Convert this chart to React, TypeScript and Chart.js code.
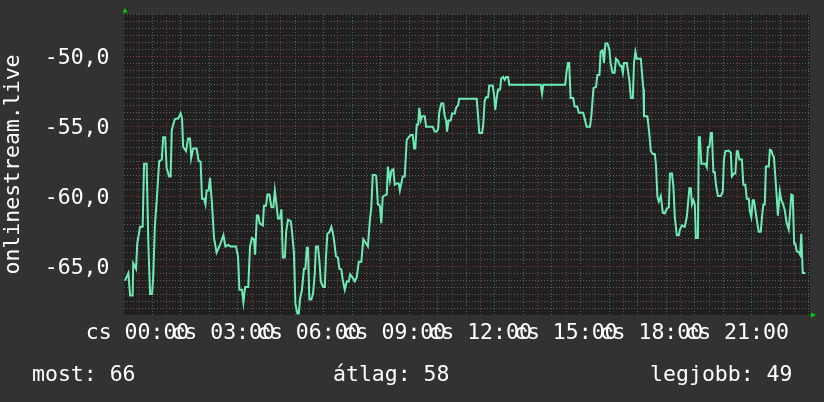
import React, { useEffect, useRef } from 'react';
import { Chart, registerables } from 'chart.js';

Chart.register(...registerables);

// time of each sample, hours after 00:00
const times: number[] = [
  -0.44, -0.32, -0.26, -0.17, -0.15, -0.05, -0.01, 0.09, 0.18, 0.23, 0.32, 0.38, 0.44, 0.51, 0.55, 0.61, 0.67, 0.76, 0.85, 0.9,
  0.97, 1.02, 1.11, 1.16, 1.2, 1.25, 1.31, 1.43, 1.51, 1.56, 1.6, 1.7, 1.77, 1.84, 1.88, 1.95, 2.07, 2.14, 2.21, 2.26,
  2.33, 2.38, 2.42, 2.49, 2.54, 2.6, 2.68, 2.77, 2.89, 3.01, 3.08, 3.18, 3.26, 3.36, 3.45, 3.52, 3.57, 3.66, 3.71, 3.77,
  3.88, 3.94, 4.01, 4.08, 4.12, 4.18, 4.23,
  4.28, 4.39, 4.43, 4.5, 4.55, 4.62, 4.69, 4.76, 4.81, 4.85, 4.92, 4.99, 5.04, 5.09, 5.16, 5.21, 5.27, 5.37, 5.41, 5.48,
  5.53, 5.6, 5.65, 5.69, 5.76, 5.83, 5.88, 5.93, 5.97, 6.02, 6.09, 6.15, 6.21, 6.25, 6.32, 6.37, 6.42, 6.5, 6.56, 6.6,
  6.65, 6.72, 6.79, 6.84, 6.88, 6.95, 7.02, 7.07, 7.14, 7.19, 7.26, 7.33, 7.4, 7.45, 7.54, 7.61, 7.68, 7.75, 7.84, 7.91,
  7.98, 8.07, 8.14, 8.19, 8.24, 8.31, 8.36, 8.42, 8.49, 8.54, 8.59, 8.66, 8.73, 8.77, 8.84, 8.89, 8.96, 9.01, 9.08,
  9.15, 9.19, 9.29, 9.36, 9.43, 9.5, 9.57, 9.64, 9.69, 9.73, 9.78, 9.83, 9.87, 9.92, 9.97, 10.06, 10.11, 10.22, 10.34, 10.41,
  10.48, 10.53, 10.57, 10.64, 10.71, 10.76, 10.81, 10.84, 10.9, 10.97, 11.02, 11.11, 11.16, 11.23, 11.27, 11.88, 11.93, 11.97, 12.07, 12.11,
  12.16, 12.21, 12.28, 12.32, 12.44, 12.49, 12.53, 12.58, 12.63, 12.7, 12.74, 12.81, 12.86, 12.91, 12.98, 13.02, 14.12,
  14.17, 14.21, 14.98, 15.03, 15.08, 15.12, 15.17, 15.26, 15.31, 15.4, 15.46, 15.61, 15.66, 15.73, 15.85, 15.9, 15.97, 16.06, 16.11, 16.18,
  16.22, 16.29, 16.34, 16.39, 16.46, 16.53, 16.57, 16.64, 16.71, 16.76, 16.83, 16.9, 16.95, 17.0, 17.04, 17.14, 17.18, 17.23, 17.28, 17.35,
  17.39, 17.44, 17.49, 17.56, 17.63, 17.67, 17.72, 17.74, 17.86, 17.92, 17.98, 18.05, 18.12, 18.16, 18.21, 18.26, 18.33, 18.4, 18.47, 18.54,
  18.61, 18.65, 18.72,
  18.77, 18.82, 18.89, 18.96, 19.0, 19.07, 19.17, 19.24, 19.28, 19.33, 19.38, 19.42, 19.47, 19.52, 19.56, 19.63, 19.66, 19.7, 19.75, 19.82,
  19.89, 19.94, 19.98, 20.03, 20.08, 20.12, 20.17, 20.22, 20.26, 20.33, 20.43, 20.5, 20.54, 20.59, 20.71, 20.78, 20.82, 20.89, 20.94, 20.99,
  21.03, 21.08, 21.17, 21.22, 21.29, 21.34, 21.41, 21.45, 21.5, 21.55, 21.59, 21.64, 21.71, 21.76, 21.83, 21.87, 21.92, 21.97, 22.01, 22.11,
  22.15, 22.2, 22.25, 22.29, 22.34, 22.39, 22.43, 22.5, 22.55, 22.6, 22.67, 22.74, 22.81, 22.86, 22.9, 22.95, 23.0, 23.04, 23.09, 23.16,
  23.21, 23.25, 23.3, 23.39,
];

// signal level (dB) for each sample
const values: number[] = [
  -66.05, -65.5, -67.1, -67.1, -64.8, -65.2, -63.4, -62.2, -62.2, -57.7, -57.7, -63.4, -67.0, -67.0, -65.8, -62.1, -60.4, -57.5, -57.4, -55.8,
  -55.8, -58.0, -58.6, -58.6, -55.3, -54.9, -54.5, -54.45, -54.1, -54.45, -56.5, -56.8, -55.9, -55.9, -57.3, -56.6, -56.6, -57.5, -57.55, -60.2,
  -60.2, -60.6, -59.6, -59.6, -58.7, -60.3, -63.0, -64.05, -63.5, -62.8, -63.6, -63.5, -63.6, -63.6, -63.6, -64.3, -66.7, -66.7, -67.6, -66.5,
  -66.5, -63.6, -63.0, -63.1, -64.2, -61.4, -61.4,
  -61.95, -62.1, -60.7, -60.7, -59.9, -59.9, -60.8, -60.8, -59.6, -60.3, -61.6, -61.6, -60.95, -64.4, -64.4, -62.5, -61.7, -61.8, -62.5, -64.1,
  -67.7, -68.4, -68.4, -67.4, -66.7, -65.2, -65.2, -63.7, -63.7, -67.4, -67.4, -66.95, -65.5, -63.6, -63.6, -64.6, -66.1, -66.5, -66.5, -64.45,
  -62.7, -62.6, -62.2, -62.6, -63.1, -64.3, -64.4, -65.2, -65.25, -66.0, -66.7, -66.1, -66.1, -65.6, -65.85, -66.1, -65.8, -64.7, -64.7, -63.1,
  -63.3, -63.6, -61.7, -60.8, -58.5, -58.5, -58.55, -60.6, -60.7, -61.95, -60.05, -59.95, -59.9, -57.9, -58.9, -58.2, -58.1, -59.2, -59.1,
  -59.1, -59.6, -58.6, -58.6, -56.0, -55.8, -55.65, -55.65, -56.6, -56.6, -54.9, -54.9, -53.7, -54.6, -54.3, -54.3, -55.05, -55.05, -55.05, -55.4,
  -55.4, -55.2, -54.0, -53.4, -53.4, -54.3, -54.6, -55.4, -54.6, -54.6, -54.1, -54.1, -53.7, -53.5, -53.05, -53.05, -54.3, -55.5, -55.5, -54.9,
  -53.2, -52.95, -52.95, -52.1, -52.1, -52.8, -53.85, -53.0, -52.4, -52.4, -51.6, -51.5, -51.7, -51.5, -51.5, -52.05, -52.05,
  -52.7, -52.05, -52.05, -51.1, -50.5, -50.5, -53.0, -53.0, -53.6, -53.6, -54.05, -54.05, -54.45, -55.05, -55.05, -54.2, -52.3, -52.2, -51.35, -51.35,
  -49.7, -49.6, -50.5, -49.1, -49.1, -49.55, -50.5, -51.2, -51.2, -50.2, -50.35, -50.7, -50.7, -51.2, -50.5, -50.5, -51.05, -51.8, -53.0, -53.0,
  -50.5, -49.7, -50.2, -50.2, -50.2, -51.2, -52.4, -54.3, -54.3, -55.4, -56.8, -57.0, -57.0, -57.8, -60.05, -60.4, -60.0, -61.2, -61.25, -60.9,
  -60.8, -58.4, -58.4,
  -59.3, -61.5, -62.8, -62.8, -62.4, -62.1, -62.2, -61.5, -60.6, -59.45, -59.45, -60.6, -60.3, -60.6, -63.0, -63.0, -55.8, -55.8, -57.7, -57.7,
  -57.7, -57.95, -56.5, -56.5, -55.5, -55.5, -58.3, -58.3, -59.2, -60.0, -60.0, -59.7, -57.4, -56.8, -56.75, -56.9, -58.6, -58.4, -58.4, -56.8,
  -56.8, -57.4, -57.4, -59.2, -59.2, -60.2, -60.2, -61.1, -61.5, -60.3, -60.3, -61.0, -61.95, -62.55, -62.55, -61.6, -60.6, -60.6, -57.9, -57.9,
  -56.7, -56.75, -57.1, -57.2, -58.6, -60.05, -61.4, -59.7, -60.3, -60.5, -61.0, -61.95, -62.4, -61.1, -59.9, -59.95, -63.4, -63.4, -63.95, -64.0,
  -64.2, -62.7, -65.5, -65.5,
];

const yLabelValues: number[] = [-50, -55, -60, -65];
const xLabelHours: number[] = [0, 3, 6, 9, 12, 15, 18, 21];
const dayPrefix = 'cs';
const axisTitle = 'onlinestream.live';
const legendLeft = 'most: 66';
const legendMid = 'átlag: 58';
const legendRight = 'legjobb: 49';

const X_MIN = -0.473;
const X_MAX = 23.555;
const Y_MIN = -68.5;
const Y_MAX = -47;

const FONT = '21.5px "DejaVu Sans Mono", monospace';
const BG = '#323232';
const PLOT_BG = '#202020';
const LINE = 'rgb(110,235,180)';
const GRID_MINOR = 'rgba(95,95,95,1)';
const GRID_MAJOR = 'rgba(140,50,50,1)';

const rrdPlugin = {
  id: 'rrdLook',
  beforeDraw(chart: any) {
    const { ctx, chartArea: a, scales } = chart;
    const xs = scales.x;
    const ys = scales.y;
    ctx.save();
    ctx.fillStyle = BG;
    ctx.fillRect(0, 0, chart.width, chart.height);
    ctx.fillStyle = PLOT_BG;
    ctx.fillRect(a.left, a.top, a.right - a.left, a.bottom - a.top);

    ctx.lineWidth = 1;
    ctx.setLineDash([1, 2]);
    const drawGrid = (major: boolean) => {
      ctx.strokeStyle = major ? GRID_MAJOR : GRID_MINOR;
      // vertical
      for (let h = -0.5; h <= 24; h += 0.5) {
        const isMajor = Math.abs(h - Math.round(h)) < 1e-6;
        if (isMajor !== major) continue;
        const px = Math.round(xs.getPixelForValue(h)) + 0.5;
        if (px < a.left || px > a.right) continue;
        ctx.beginPath();
        ctx.moveTo(px, a.top);
        ctx.lineTo(px, a.bottom + (major ? 2 : 0));
        ctx.stroke();
      }
      // horizontal
      for (let v = -68.5; v <= -47; v += 0.5) {
        const isMajor = Math.abs(v / 5 - Math.round(v / 5)) < 1e-6;
        if (isMajor !== major) continue;
        const py = Math.round(ys.getPixelForValue(v)) + 0.5;
        if (py < a.top || py > a.bottom) continue;
        ctx.beginPath();
        ctx.moveTo(a.left, py);
        ctx.lineTo(a.right, py);
        ctx.stroke();
      }
    };
    drawGrid(false);
    drawGrid(true);
    ctx.restore();
  },
  afterDraw(chart: any) {
    const { ctx, chartArea: a, scales } = chart;
    const xs = scales.x;
    const ys = scales.y;
    ctx.save();
    ctx.fillStyle = '#ffffff';
    ctx.font = FONT;

    // y labels
    ctx.textAlign = 'right';
    ctx.textBaseline = 'alphabetic';
    yLabelValues.forEach((v) => {
      const py = ys.getPixelForValue(v);
      ctx.fillText(v.toFixed(1).replace('.', ','), 109.5, py + 8);
    });

    // x labels
    ctx.textAlign = 'center';
    xLabelHours.forEach((h) => {
      const px = xs.getPixelForValue(h);
      const hh = String(h).padStart(2, '0');
      ctx.fillText(`${dayPrefix} ${hh}:00`, px, 339);
    });

    // legend
    ctx.textAlign = 'left';
    ctx.fillText(legendLeft, 32, 381);
    ctx.fillText(legendMid, 333, 381);
    ctx.textAlign = 'right';
    ctx.fillText(legendRight, 792.5, 381);

    // vertical title
    ctx.save();
    ctx.translate(18.5, (a.top + a.bottom) / 2);
    ctx.rotate(-Math.PI / 2);
    ctx.textAlign = 'center';
    ctx.fillText(axisTitle, 0, 0);
    ctx.restore();

    // arrows
    ctx.fillStyle = '#00d000';
    ctx.beginPath();
    ctx.moveTo(122.5, 12.5);
    ctx.lineTo(127.5, 12.5);
    ctx.lineTo(125, 8);
    ctx.closePath();
    ctx.fill();
    ctx.beginPath();
    ctx.moveTo(811, 312.5);
    ctx.lineTo(811, 317.5);
    ctx.lineTo(816, 315);
    ctx.closePath();
    ctx.fill();
    ctx.restore();
  },
};

export default function App() {
  const ref = useRef<HTMLCanvasElement | null>(null);
  useEffect(() => {
    if (!ref.current) return;
    const chart = new Chart(ref.current, {
      type: 'line',
      data: {
        datasets: [
          {
            data: times.map((t, i) => ({ x: t, y: values[i] })),
            borderColor: LINE,
            borderWidth: 2,
            pointRadius: 0,
            tension: 0,
            fill: false,
          },
        ],
      },
      options: {
        animation: false,
        responsive: false,
        devicePixelRatio: 1,
        layout: { padding: { left: 124, right: 14, top: 14, bottom: 87 } },
        plugins: { legend: { display: false }, tooltip: { enabled: false } },
        scales: {
          x: { type: 'linear', min: X_MIN, max: X_MAX, display: false },
          y: { type: 'linear', min: Y_MIN, max: Y_MAX, display: false },
        },
      },
      plugins: [rrdPlugin],
    } as any);
    return () => chart.destroy();
  }, []);
  return (
    <div style={{ position: 'fixed', left: 0, top: 0, width: 824, height: 402 }}>
      <canvas ref={ref} width={824} height={402} style={{ display: 'block', width: 824, height: 402 }} />
    </div>
  );
}
